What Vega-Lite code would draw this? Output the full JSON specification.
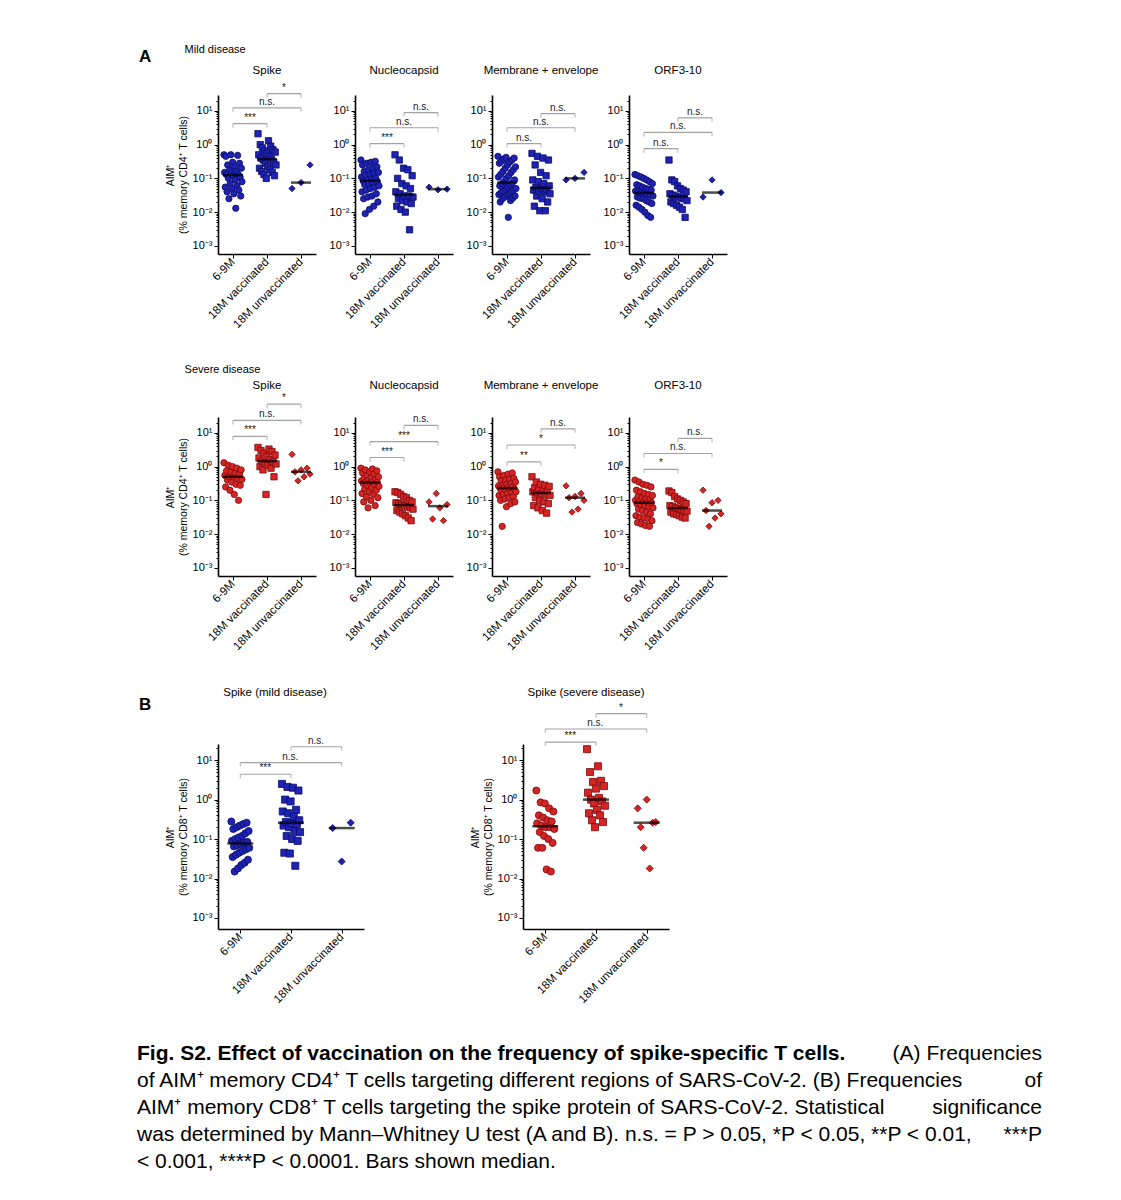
{
"$schema":"https://vega.github.io/schema/vega-lite/v6.json",
"background":"white",
"padding":{"left":137,"top":44,"right":10,"bottom":10},
"config":{
 "view":{"stroke":null},
 "font":"Liberation Sans",
 "axis":{"domainColor":"#000","domainWidth":1.6,"tickColor":"#000","tickWidth":1,"labelColor":"#000","labelFontSize":11,"labelFont":"Liberation Sans","titleFont":"Liberation Sans","titleFontSize":10.5,"titleFontWeight":"normal","titleColor":"#000","grid":false},
 "axisX":{"labelAngle":-45,"labelAlign":"right","labelBaseline":"middle","tickSize":4,"labelPadding":2,"labelFontSize":11.5},
 "title":{"font":"Liberation Sans","fontSize":11.5,"fontWeight":"normal","color":"#000","anchor":"middle","frame":"group","offset":8},
 "text":{"font":"Liberation Sans","fontSize":10,"color":"#222"}
},
"datasets":{
"br":[
{"p":"mS","c":"6-9M","c2":"18M vaccinated","v":4.17,"t":"***"},
{"p":"mS","c":"6-9M","c2":"18M unvaccinated","v":12.3,"t":"n.s."},
{"p":"mS","c":"18M vaccinated","c2":"18M unvaccinated","v":32.4,"t":"*"},
{"p":"mN","c":"6-9M","c2":"18M vaccinated","v":1.07,"t":"***"},
{"p":"mN","c":"6-9M","c2":"18M unvaccinated","v":3.16,"t":"n.s."},
{"p":"mN","c":"18M vaccinated","c2":"18M unvaccinated","v":8.9,"t":"n.s."},
{"p":"mM","c":"6-9M","c2":"18M vaccinated","v":1.07,"t":"n.s."},
{"p":"mM","c":"6-9M","c2":"18M unvaccinated","v":3.16,"t":"n.s."},
{"p":"mM","c":"18M vaccinated","c2":"18M unvaccinated","v":8.3,"t":"n.s."},
{"p":"mO","c":"6-9M","c2":"18M vaccinated","v":0.76,"t":"n.s."},
{"p":"mO","c":"6-9M","c2":"18M unvaccinated","v":2.3,"t":"n.s."},
{"p":"mO","c":"18M vaccinated","c2":"18M unvaccinated","v":6.2,"t":"n.s."},
{"p":"sS","c":"6-9M","c2":"18M vaccinated","v":7.9,"t":"***"},
{"p":"sS","c":"6-9M","c2":"18M unvaccinated","v":23.4,"t":"n.s."},
{"p":"sS","c":"18M vaccinated","c2":"18M unvaccinated","v":70.8,"t":"*"},
{"p":"sN","c":"6-9M","c2":"18M vaccinated","v":1.86,"t":"***"},
{"p":"sN","c":"6-9M","c2":"18M unvaccinated","v":5.5,"t":"***"},
{"p":"sN","c":"18M vaccinated","c2":"18M unvaccinated","v":16.6,"t":"n.s."},
{"p":"sM","c":"6-9M","c2":"18M vaccinated","v":1.38,"t":"**"},
{"p":"sM","c":"6-9M","c2":"18M unvaccinated","v":4.37,"t":"*"},
{"p":"sM","c":"18M vaccinated","c2":"18M unvaccinated","v":13.2,"t":"n.s."},
{"p":"sO","c":"6-9M","c2":"18M vaccinated","v":0.83,"t":"*"},
{"p":"sO","c":"6-9M","c2":"18M unvaccinated","v":2.45,"t":"n.s."},
{"p":"sO","c":"18M vaccinated","c2":"18M unvaccinated","v":6.9,"t":"n.s."},
{"p":"bm","c":"6-9M","c2":"18M vaccinated","v":4.4,"t":"***"},
{"p":"bm","c":"6-9M","c2":"18M unvaccinated","v":8.7,"t":"n.s."},
{"p":"bm","c":"18M vaccinated","c2":"18M unvaccinated","v":21.9,"t":"n.s."},
{"p":"bs","c":"6-9M","c2":"18M vaccinated","v":28.8,"t":"***"},
{"p":"bs","c":"6-9M","c2":"18M unvaccinated","v":61.7,"t":"n.s."},
{"p":"bs","c":"18M vaccinated","c2":"18M unvaccinated","v":151,"t":"*"}
],
"cap":[
{"line":1,"part":1,"text":"Fig. S2. Effect of vaccination on the frequency of spike-specific T cells."},
{"line":1,"part":2,"text":"(A) Frequencies"},
{"line":2,"part":1,"text":"of AIM⁺ memory CD4⁺ T cells targeting different regions of SARS-CoV-2. (B) Frequencies"},
{"line":2,"part":2,"text":"of"},
{"line":3,"part":1,"text":"AIM⁺ memory CD8⁺ T cells targeting the spike protein of SARS-CoV-2. Statistical"},
{"line":3,"part":2,"text":"significance"},
{"line":4,"part":1,"text":"was determined by Mann–Whitney U test (A and B). n.s. = P > 0.05, *P < 0.05, **P < 0.01,"},
{"line":4,"part":2,"text":"***P"},
{"line":5,"part":1,"text":"< 0.001, ****P < 0.0001. Bars shown median."}
],
"pts":[
{"p":"mS","c":"6-9M","v":0.5},{"p":"mS","c":"6-9M","v":0.15},{"p":"mS","c":"6-9M","v":0.055},{"p":"mS","c":"6-9M","v":0.45},{"p":"mS","c":"6-9M","v":0.13},{"p":"mS","c":"6-9M","v":0.04},{"p":"mS","c":"6-9M","v":0.25},{"p":"mS","c":"6-9M","v":0.1},{"p":"mS","c":"6-9M","v":0.025},{"p":"mS","c":"6-9M","v":0.18},{"p":"mS","c":"6-9M","v":0.07},{"p":"mS","c":"6-9M","v":0.5},{"p":"mS","c":"6-9M","v":0.14},{"p":"mS","c":"6-9M","v":0.05},{"p":"mS","c":"6-9M","v":0.3},{"p":"mS","c":"6-9M","v":0.12},{"p":"mS","c":"6-9M","v":0.035},{"p":"mS","c":"6-9M","v":0.22},{"p":"mS","c":"6-9M","v":0.09},{"p":"mS","c":"6-9M","v":0.013},{"p":"mS","c":"6-9M","v":0.16},{"p":"mS","c":"6-9M","v":0.06},{"p":"mS","c":"6-9M","v":0.48},{"p":"mS","c":"6-9M","v":0.13},{"p":"mS","c":"6-9M","v":0.045},{"p":"mS","c":"6-9M","v":0.28},{"p":"mS","c":"6-9M","v":0.11},{"p":"mS","c":"6-9M","v":0.03},{"p":"mS","c":"6-9M","v":0.2},{"p":"mS","c":"6-9M","v":0.08},
{"p":"mS","c":"18M vaccinated","v":2.1},{"p":"mS","c":"18M vaccinated","v":0.5},{"p":"mS","c":"18M vaccinated","v":0.2},{"p":"mS","c":"18M vaccinated","v":1.0},{"p":"mS","c":"18M vaccinated","v":0.4},{"p":"mS","c":"18M vaccinated","v":0.16},{"p":"mS","c":"18M vaccinated","v":0.8},{"p":"mS","c":"18M vaccinated","v":0.35},{"p":"mS","c":"18M vaccinated","v":0.13},{"p":"mS","c":"18M vaccinated","v":0.65},{"p":"mS","c":"18M vaccinated","v":0.28},{"p":"mS","c":"18M vaccinated","v":0.1},{"p":"mS","c":"18M vaccinated","v":0.55},{"p":"mS","c":"18M vaccinated","v":0.22},{"p":"mS","c":"18M vaccinated","v":1.3},{"p":"mS","c":"18M vaccinated","v":0.45},{"p":"mS","c":"18M vaccinated","v":0.18},{"p":"mS","c":"18M vaccinated","v":0.9},{"p":"mS","c":"18M vaccinated","v":0.37},{"p":"mS","c":"18M vaccinated","v":0.15},{"p":"mS","c":"18M vaccinated","v":0.7},{"p":"mS","c":"18M vaccinated","v":0.3},{"p":"mS","c":"18M vaccinated","v":0.12},{"p":"mS","c":"18M vaccinated","v":0.6},{"p":"mS","c":"18M vaccinated","v":0.25},
{"p":"mS","c":"18M unvaccinated","v":0.05},{"p":"mS","c":"18M unvaccinated","v":0.075},{"p":"mS","c":"18M unvaccinated","v":0.25},
{"p":"mN","c":"6-9M","v":0.35},{"p":"mN","c":"6-9M","v":0.11},{"p":"mN","c":"6-9M","v":0.04},{"p":"mN","c":"6-9M","v":0.25},{"p":"mN","c":"6-9M","v":0.085},{"p":"mN","c":"6-9M","v":0.025},{"p":"mN","c":"6-9M","v":0.16},{"p":"mN","c":"6-9M","v":0.065},{"p":"mN","c":"6-9M","v":0.009},{"p":"mN","c":"6-9M","v":0.12},{"p":"mN","c":"6-9M","v":0.045},{"p":"mN","c":"6-9M","v":0.28},{"p":"mN","c":"6-9M","v":0.09},{"p":"mN","c":"6-9M","v":0.028},{"p":"mN","c":"6-9M","v":0.18},{"p":"mN","c":"6-9M","v":0.07},{"p":"mN","c":"6-9M","v":0.012},{"p":"mN","c":"6-9M","v":0.13},{"p":"mN","c":"6-9M","v":0.05},{"p":"mN","c":"6-9M","v":0.3},{"p":"mN","c":"6-9M","v":0.095},{"p":"mN","c":"6-9M","v":0.03},{"p":"mN","c":"6-9M","v":0.2},{"p":"mN","c":"6-9M","v":0.075},{"p":"mN","c":"6-9M","v":0.015},{"p":"mN","c":"6-9M","v":0.14},{"p":"mN","c":"6-9M","v":0.055},{"p":"mN","c":"6-9M","v":0.32},{"p":"mN","c":"6-9M","v":0.1},{"p":"mN","c":"6-9M","v":0.035},{"p":"mN","c":"6-9M","v":0.22},{"p":"mN","c":"6-9M","v":0.08},{"p":"mN","c":"6-9M","v":0.02},{"p":"mN","c":"6-9M","v":0.15},{"p":"mN","c":"6-9M","v":0.06},
{"p":"mN","c":"18M vaccinated","v":0.5},{"p":"mN","c":"18M vaccinated","v":0.04},{"p":"mN","c":"18M vaccinated","v":0.015},{"p":"mN","c":"18M vaccinated","v":0.1},{"p":"mN","c":"18M vaccinated","v":0.025},{"p":"mN","c":"18M vaccinated","v":0.35},{"p":"mN","c":"18M vaccinated","v":0.035},{"p":"mN","c":"18M vaccinated","v":0.012},{"p":"mN","c":"18M vaccinated","v":0.07},{"p":"mN","c":"18M vaccinated","v":0.022},{"p":"mN","c":"18M vaccinated","v":0.2},{"p":"mN","c":"18M vaccinated","v":0.03},{"p":"mN","c":"18M vaccinated","v":0.01},{"p":"mN","c":"18M vaccinated","v":0.06},{"p":"mN","c":"18M vaccinated","v":0.02},{"p":"mN","c":"18M vaccinated","v":0.18},{"p":"mN","c":"18M vaccinated","v":0.03},{"p":"mN","c":"18M vaccinated","v":0.003},{"p":"mN","c":"18M vaccinated","v":0.05},{"p":"mN","c":"18M vaccinated","v":0.018},{"p":"mN","c":"18M vaccinated","v":0.12},{"p":"mN","c":"18M vaccinated","v":0.028},
{"p":"mN","c":"18M unvaccinated","v":0.055},{"p":"mN","c":"18M unvaccinated","v":0.046},{"p":"mN","c":"18M unvaccinated","v":0.048},
{"p":"mM","c":"6-9M","v":0.45},{"p":"mM","c":"6-9M","v":0.11},{"p":"mM","c":"6-9M","v":0.033},{"p":"mM","c":"6-9M","v":0.28},{"p":"mM","c":"6-9M","v":0.06},{"p":"mM","c":"6-9M","v":0.02},{"p":"mM","c":"6-9M","v":0.13},{"p":"mM","c":"6-9M","v":0.038},{"p":"mM","c":"6-9M","v":0.32},{"p":"mM","c":"6-9M","v":0.07},{"p":"mM","c":"6-9M","v":0.025},{"p":"mM","c":"6-9M","v":0.16},{"p":"mM","c":"6-9M","v":0.042},{"p":"mM","c":"6-9M","v":0.38},{"p":"mM","c":"6-9M","v":0.08},{"p":"mM","c":"6-9M","v":0.028},{"p":"mM","c":"6-9M","v":0.2},{"p":"mM","c":"6-9M","v":0.048},{"p":"mM","c":"6-9M","v":0.42},{"p":"mM","c":"6-9M","v":0.1},{"p":"mM","c":"6-9M","v":0.032},{"p":"mM","c":"6-9M","v":0.25},{"p":"mM","c":"6-9M","v":0.055},{"p":"mM","c":"6-9M","v":0.007},{"p":"mM","c":"6-9M","v":0.12},{"p":"mM","c":"6-9M","v":0.035},{"p":"mM","c":"6-9M","v":0.3},{"p":"mM","c":"6-9M","v":0.065},{"p":"mM","c":"6-9M","v":0.022},{"p":"mM","c":"6-9M","v":0.15},{"p":"mM","c":"6-9M","v":0.04},{"p":"mM","c":"6-9M","v":0.35},{"p":"mM","c":"6-9M","v":0.075},{"p":"mM","c":"6-9M","v":0.026},{"p":"mM","c":"6-9M","v":0.18},{"p":"mM","c":"6-9M","v":0.045},{"p":"mM","c":"6-9M","v":0.4},{"p":"mM","c":"6-9M","v":0.09},{"p":"mM","c":"6-9M","v":0.03},{"p":"mM","c":"6-9M","v":0.22},{"p":"mM","c":"6-9M","v":0.05},
{"p":"mM","c":"18M vaccinated","v":0.55},{"p":"mM","c":"18M vaccinated","v":0.09},{"p":"mM","c":"18M vaccinated","v":0.045},{"p":"mM","c":"18M vaccinated","v":0.015},{"p":"mM","c":"18M vaccinated","v":0.25},{"p":"mM","c":"18M vaccinated","v":0.055},{"p":"mM","c":"18M vaccinated","v":0.03},{"p":"mM","c":"18M vaccinated","v":0.45},{"p":"mM","c":"18M vaccinated","v":0.08},{"p":"mM","c":"18M vaccinated","v":0.042},{"p":"mM","c":"18M vaccinated","v":0.011},{"p":"mM","c":"18M vaccinated","v":0.15},{"p":"mM","c":"18M vaccinated","v":0.05},{"p":"mM","c":"18M vaccinated","v":0.025},{"p":"mM","c":"18M vaccinated","v":0.4},{"p":"mM","c":"18M vaccinated","v":0.07},{"p":"mM","c":"18M vaccinated","v":0.04},{"p":"mM","c":"18M vaccinated","v":0.011},{"p":"mM","c":"18M vaccinated","v":0.12},{"p":"mM","c":"18M vaccinated","v":0.048},{"p":"mM","c":"18M vaccinated","v":0.02},{"p":"mM","c":"18M vaccinated","v":0.35},{"p":"mM","c":"18M vaccinated","v":0.06},{"p":"mM","c":"18M vaccinated","v":0.035},
{"p":"mM","c":"18M unvaccinated","v":0.09},{"p":"mM","c":"18M unvaccinated","v":0.1},{"p":"mM","c":"18M unvaccinated","v":0.15},
{"p":"mO","c":"6-9M","v":0.13},{"p":"mO","c":"6-9M","v":0.042},{"p":"mO","c":"6-9M","v":0.016},{"p":"mO","c":"6-9M","v":0.065},{"p":"mO","c":"6-9M","v":0.028},{"p":"mO","c":"6-9M","v":0.12},{"p":"mO","c":"6-9M","v":0.04},{"p":"mO","c":"6-9M","v":0.014},{"p":"mO","c":"6-9M","v":0.06},{"p":"mO","c":"6-9M","v":0.026},{"p":"mO","c":"6-9M","v":0.11},{"p":"mO","c":"6-9M","v":0.038},{"p":"mO","c":"6-9M","v":0.012},{"p":"mO","c":"6-9M","v":0.055},{"p":"mO","c":"6-9M","v":0.025},{"p":"mO","c":"6-9M","v":0.1},{"p":"mO","c":"6-9M","v":0.036},{"p":"mO","c":"6-9M","v":0.01},{"p":"mO","c":"6-9M","v":0.05},{"p":"mO","c":"6-9M","v":0.022},{"p":"mO","c":"6-9M","v":0.09},{"p":"mO","c":"6-9M","v":0.034},{"p":"mO","c":"6-9M","v":0.008},{"p":"mO","c":"6-9M","v":0.048},{"p":"mO","c":"6-9M","v":0.02},{"p":"mO","c":"6-9M","v":0.08},{"p":"mO","c":"6-9M","v":0.032},{"p":"mO","c":"6-9M","v":0.007},{"p":"mO","c":"6-9M","v":0.045},{"p":"mO","c":"6-9M","v":0.018},{"p":"mO","c":"6-9M","v":0.07},{"p":"mO","c":"6-9M","v":0.03},
{"p":"mO","c":"18M vaccinated","v":0.35},{"p":"mO","c":"18M vaccinated","v":0.035},{"p":"mO","c":"18M vaccinated","v":0.02},{"p":"mO","c":"18M vaccinated","v":0.09},{"p":"mO","c":"18M vaccinated","v":0.032},{"p":"mO","c":"18M vaccinated","v":0.018},{"p":"mO","c":"18M vaccinated","v":0.08},{"p":"mO","c":"18M vaccinated","v":0.03},{"p":"mO","c":"18M vaccinated","v":0.016},{"p":"mO","c":"18M vaccinated","v":0.06},{"p":"mO","c":"18M vaccinated","v":0.028},{"p":"mO","c":"18M vaccinated","v":0.014},{"p":"mO","c":"18M vaccinated","v":0.05},{"p":"mO","c":"18M vaccinated","v":0.026},{"p":"mO","c":"18M vaccinated","v":0.012},{"p":"mO","c":"18M vaccinated","v":0.045},{"p":"mO","c":"18M vaccinated","v":0.025},{"p":"mO","c":"18M vaccinated","v":0.007},{"p":"mO","c":"18M vaccinated","v":0.04},{"p":"mO","c":"18M vaccinated","v":0.022},
{"p":"mO","c":"18M unvaccinated","v":0.028},{"p":"mO","c":"18M unvaccinated","v":0.09},{"p":"mO","c":"18M unvaccinated","v":0.038},
{"p":"sS","c":"6-9M","v":1.3},{"p":"sS","c":"6-9M","v":0.55},{"p":"sS","c":"6-9M","v":0.25},{"p":"sS","c":"6-9M","v":0.75},{"p":"sS","c":"6-9M","v":0.4},{"p":"sS","c":"6-9M","v":1.1},{"p":"sS","c":"6-9M","v":0.5},{"p":"sS","c":"6-9M","v":0.2},{"p":"sS","c":"6-9M","v":0.7},{"p":"sS","c":"6-9M","v":0.35},{"p":"sS","c":"6-9M","v":1.0},{"p":"sS","c":"6-9M","v":0.5},{"p":"sS","c":"6-9M","v":0.15},{"p":"sS","c":"6-9M","v":0.65},{"p":"sS","c":"6-9M","v":0.3},{"p":"sS","c":"6-9M","v":0.9},{"p":"sS","c":"6-9M","v":0.45},{"p":"sS","c":"6-9M","v":0.1},{"p":"sS","c":"6-9M","v":0.6},{"p":"sS","c":"6-9M","v":0.28},{"p":"sS","c":"6-9M","v":0.8},{"p":"sS","c":"6-9M","v":0.42},
{"p":"sS","c":"18M vaccinated","v":3.7},{"p":"sS","c":"18M vaccinated","v":1.8},{"p":"sS","c":"18M vaccinated","v":1.0},{"p":"sS","c":"18M vaccinated","v":3.0},{"p":"sS","c":"18M vaccinated","v":1.45},{"p":"sS","c":"18M vaccinated","v":0.8},{"p":"sS","c":"18M vaccinated","v":2.5},{"p":"sS","c":"18M vaccinated","v":1.3},{"p":"sS","c":"18M vaccinated","v":0.15},{"p":"sS","c":"18M vaccinated","v":2.0},{"p":"sS","c":"18M vaccinated","v":1.1},{"p":"sS","c":"18M vaccinated","v":3.3},{"p":"sS","c":"18M vaccinated","v":1.6},{"p":"sS","c":"18M vaccinated","v":0.9},{"p":"sS","c":"18M vaccinated","v":2.8},{"p":"sS","c":"18M vaccinated","v":1.4},{"p":"sS","c":"18M vaccinated","v":0.5},{"p":"sS","c":"18M vaccinated","v":2.2},{"p":"sS","c":"18M vaccinated","v":1.2},
{"p":"sS","c":"18M unvaccinated","v":2.3},{"p":"sS","c":"18M unvaccinated","v":0.7},{"p":"sS","c":"18M unvaccinated","v":0.38},{"p":"sS","c":"18M unvaccinated","v":0.8},{"p":"sS","c":"18M unvaccinated","v":0.5},{"p":"sS","c":"18M unvaccinated","v":0.9},{"p":"sS","c":"18M unvaccinated","v":0.6},
{"p":"sN","c":"6-9M","v":0.9},{"p":"sN","c":"6-9M","v":0.38},{"p":"sN","c":"6-9M","v":0.16},{"p":"sN","c":"6-9M","v":0.65},{"p":"sN","c":"6-9M","v":0.32},{"p":"sN","c":"6-9M","v":0.09},{"p":"sN","c":"6-9M","v":0.45},{"p":"sN","c":"6-9M","v":0.22},{"p":"sN","c":"6-9M","v":0.8},{"p":"sN","c":"6-9M","v":0.35},{"p":"sN","c":"6-9M","v":0.13},{"p":"sN","c":"6-9M","v":0.55},{"p":"sN","c":"6-9M","v":0.28},{"p":"sN","c":"6-9M","v":0.06},{"p":"sN","c":"6-9M","v":0.4},{"p":"sN","c":"6-9M","v":0.18},{"p":"sN","c":"6-9M","v":0.7},{"p":"sN","c":"6-9M","v":0.33},{"p":"sN","c":"6-9M","v":0.1},{"p":"sN","c":"6-9M","v":0.48},{"p":"sN","c":"6-9M","v":0.24},{"p":"sN","c":"6-9M","v":0.85},{"p":"sN","c":"6-9M","v":0.36},{"p":"sN","c":"6-9M","v":0.15},{"p":"sN","c":"6-9M","v":0.6},{"p":"sN","c":"6-9M","v":0.3},{"p":"sN","c":"6-9M","v":0.07},{"p":"sN","c":"6-9M","v":0.42},{"p":"sN","c":"6-9M","v":0.2},{"p":"sN","c":"6-9M","v":0.75},{"p":"sN","c":"6-9M","v":0.34},{"p":"sN","c":"6-9M","v":0.12},{"p":"sN","c":"6-9M","v":0.5},{"p":"sN","c":"6-9M","v":0.26},
{"p":"sN","c":"18M vaccinated","v":0.18},{"p":"sN","c":"18M vaccinated","v":0.085},{"p":"sN","c":"18M vaccinated","v":0.05},{"p":"sN","c":"18M vaccinated","v":0.17},{"p":"sN","c":"18M vaccinated","v":0.08},{"p":"sN","c":"18M vaccinated","v":0.045},{"p":"sN","c":"18M vaccinated","v":0.15},{"p":"sN","c":"18M vaccinated","v":0.075},{"p":"sN","c":"18M vaccinated","v":0.04},{"p":"sN","c":"18M vaccinated","v":0.13},{"p":"sN","c":"18M vaccinated","v":0.07},{"p":"sN","c":"18M vaccinated","v":0.035},{"p":"sN","c":"18M vaccinated","v":0.12},{"p":"sN","c":"18M vaccinated","v":0.065},{"p":"sN","c":"18M vaccinated","v":0.03},{"p":"sN","c":"18M vaccinated","v":0.1},{"p":"sN","c":"18M vaccinated","v":0.06},{"p":"sN","c":"18M vaccinated","v":0.025},{"p":"sN","c":"18M vaccinated","v":0.09},{"p":"sN","c":"18M vaccinated","v":0.055},
{"p":"sN","c":"18M unvaccinated","v":0.09},{"p":"sN","c":"18M unvaccinated","v":0.028},{"p":"sN","c":"18M unvaccinated","v":0.16},{"p":"sN","c":"18M unvaccinated","v":0.06},{"p":"sN","c":"18M unvaccinated","v":0.025},{"p":"sN","c":"18M unvaccinated","v":0.075},
{"p":"sM","c":"6-9M","v":0.7},{"p":"sM","c":"6-9M","v":0.27},{"p":"sM","c":"6-9M","v":0.14},{"p":"sM","c":"6-9M","v":0.5},{"p":"sM","c":"6-9M","v":0.23},{"p":"sM","c":"6-9M","v":0.1},{"p":"sM","c":"6-9M","v":0.38},{"p":"sM","c":"6-9M","v":0.19},{"p":"sM","c":"6-9M","v":0.017},{"p":"sM","c":"6-9M","v":0.28},{"p":"sM","c":"6-9M","v":0.15},{"p":"sM","c":"6-9M","v":0.55},{"p":"sM","c":"6-9M","v":0.24},{"p":"sM","c":"6-9M","v":0.11},{"p":"sM","c":"6-9M","v":0.4},{"p":"sM","c":"6-9M","v":0.2},{"p":"sM","c":"6-9M","v":0.065},{"p":"sM","c":"6-9M","v":0.3},{"p":"sM","c":"6-9M","v":0.16},{"p":"sM","c":"6-9M","v":0.6},{"p":"sM","c":"6-9M","v":0.25},{"p":"sM","c":"6-9M","v":0.12},{"p":"sM","c":"6-9M","v":0.42},{"p":"sM","c":"6-9M","v":0.21},{"p":"sM","c":"6-9M","v":0.08},{"p":"sM","c":"6-9M","v":0.32},{"p":"sM","c":"6-9M","v":0.17},{"p":"sM","c":"6-9M","v":0.65},{"p":"sM","c":"6-9M","v":0.26},{"p":"sM","c":"6-9M","v":0.13},{"p":"sM","c":"6-9M","v":0.45},{"p":"sM","c":"6-9M","v":0.22},{"p":"sM","c":"6-9M","v":0.09},{"p":"sM","c":"6-9M","v":0.35},{"p":"sM","c":"6-9M","v":0.18},
{"p":"sM","c":"18M vaccinated","v":0.5},{"p":"sM","c":"18M vaccinated","v":0.18},{"p":"sM","c":"18M vaccinated","v":0.07},{"p":"sM","c":"18M vaccinated","v":0.24},{"p":"sM","c":"18M vaccinated","v":0.12},{"p":"sM","c":"18M vaccinated","v":0.35},{"p":"sM","c":"18M vaccinated","v":0.17},{"p":"sM","c":"18M vaccinated","v":0.06},{"p":"sM","c":"18M vaccinated","v":0.22},{"p":"sM","c":"18M vaccinated","v":0.1},{"p":"sM","c":"18M vaccinated","v":0.3},{"p":"sM","c":"18M vaccinated","v":0.16},{"p":"sM","c":"18M vaccinated","v":0.05},{"p":"sM","c":"18M vaccinated","v":0.2},{"p":"sM","c":"18M vaccinated","v":0.09},{"p":"sM","c":"18M vaccinated","v":0.28},{"p":"sM","c":"18M vaccinated","v":0.15},{"p":"sM","c":"18M vaccinated","v":0.042},{"p":"sM","c":"18M vaccinated","v":0.19},{"p":"sM","c":"18M vaccinated","v":0.08},{"p":"sM","c":"18M vaccinated","v":0.26},{"p":"sM","c":"18M vaccinated","v":0.14},
{"p":"sM","c":"18M unvaccinated","v":0.27},{"p":"sM","c":"18M unvaccinated","v":0.12},{"p":"sM","c":"18M unvaccinated","v":0.045},{"p":"sM","c":"18M unvaccinated","v":0.13},{"p":"sM","c":"18M unvaccinated","v":0.055},{"p":"sM","c":"18M unvaccinated","v":0.16},{"p":"sM","c":"18M unvaccinated","v":0.1},
{"p":"sO","c":"6-9M","v":0.4},{"p":"sO","c":"6-9M","v":0.1},{"p":"sO","c":"6-9M","v":0.035},{"p":"sO","c":"6-9M","v":0.2},{"p":"sO","c":"6-9M","v":0.08},{"p":"sO","c":"6-9M","v":0.022},{"p":"sO","c":"6-9M","v":0.13},{"p":"sO","c":"6-9M","v":0.055},{"p":"sO","c":"6-9M","v":0.35},{"p":"sO","c":"6-9M","v":0.095},{"p":"sO","c":"6-9M","v":0.032},{"p":"sO","c":"6-9M","v":0.18},{"p":"sO","c":"6-9M","v":0.075},{"p":"sO","c":"6-9M","v":0.02},{"p":"sO","c":"6-9M","v":0.12},{"p":"sO","c":"6-9M","v":0.05},{"p":"sO","c":"6-9M","v":0.3},{"p":"sO","c":"6-9M","v":0.09},{"p":"sO","c":"6-9M","v":0.03},{"p":"sO","c":"6-9M","v":0.16},{"p":"sO","c":"6-9M","v":0.07},{"p":"sO","c":"6-9M","v":0.018},{"p":"sO","c":"6-9M","v":0.11},{"p":"sO","c":"6-9M","v":0.045},{"p":"sO","c":"6-9M","v":0.28},{"p":"sO","c":"6-9M","v":0.088},{"p":"sO","c":"6-9M","v":0.028},{"p":"sO","c":"6-9M","v":0.15},{"p":"sO","c":"6-9M","v":0.065},{"p":"sO","c":"6-9M","v":0.017},{"p":"sO","c":"6-9M","v":0.105},{"p":"sO","c":"6-9M","v":0.04},{"p":"sO","c":"6-9M","v":0.25},{"p":"sO","c":"6-9M","v":0.085},{"p":"sO","c":"6-9M","v":0.025},{"p":"sO","c":"6-9M","v":0.14},{"p":"sO","c":"6-9M","v":0.06},
{"p":"sO","c":"18M vaccinated","v":0.19},{"p":"sO","c":"18M vaccinated","v":0.07},{"p":"sO","c":"18M vaccinated","v":0.045},{"p":"sO","c":"18M vaccinated","v":0.17},{"p":"sO","c":"18M vaccinated","v":0.065},{"p":"sO","c":"18M vaccinated","v":0.04},{"p":"sO","c":"18M vaccinated","v":0.13},{"p":"sO","c":"18M vaccinated","v":0.06},{"p":"sO","c":"18M vaccinated","v":0.038},{"p":"sO","c":"18M vaccinated","v":0.11},{"p":"sO","c":"18M vaccinated","v":0.058},{"p":"sO","c":"18M vaccinated","v":0.035},{"p":"sO","c":"18M vaccinated","v":0.1},{"p":"sO","c":"18M vaccinated","v":0.055},{"p":"sO","c":"18M vaccinated","v":0.032},{"p":"sO","c":"18M vaccinated","v":0.09},{"p":"sO","c":"18M vaccinated","v":0.05},{"p":"sO","c":"18M vaccinated","v":0.03},{"p":"sO","c":"18M vaccinated","v":0.08},{"p":"sO","c":"18M vaccinated","v":0.048},
{"p":"sO","c":"18M unvaccinated","v":0.2},{"p":"sO","c":"18M unvaccinated","v":0.05},{"p":"sO","c":"18M unvaccinated","v":0.017},{"p":"sO","c":"18M unvaccinated","v":0.085},{"p":"sO","c":"18M unvaccinated","v":0.03},{"p":"sO","c":"18M unvaccinated","v":0.1},{"p":"sO","c":"18M unvaccinated","v":0.04},
{"p":"bm","c":"6-9M","v":0.28},{"p":"bm","c":"6-9M","v":0.09},{"p":"bm","c":"6-9M","v":0.035},{"p":"bm","c":"6-9M","v":0.18},{"p":"bm","c":"6-9M","v":0.065},{"p":"bm","c":"6-9M","v":0.015},{"p":"bm","c":"6-9M","v":0.1},{"p":"bm","c":"6-9M","v":0.04},{"p":"bm","c":"6-9M","v":0.2},{"p":"bm","c":"6-9M","v":0.07},{"p":"bm","c":"6-9M","v":0.018},{"p":"bm","c":"6-9M","v":0.11},{"p":"bm","c":"6-9M","v":0.045},{"p":"bm","c":"6-9M","v":0.22},{"p":"bm","c":"6-9M","v":0.075},{"p":"bm","c":"6-9M","v":0.022},{"p":"bm","c":"6-9M","v":0.12},{"p":"bm","c":"6-9M","v":0.05},{"p":"bm","c":"6-9M","v":0.24},{"p":"bm","c":"6-9M","v":0.08},{"p":"bm","c":"6-9M","v":0.025},{"p":"bm","c":"6-9M","v":0.14},{"p":"bm","c":"6-9M","v":0.055},{"p":"bm","c":"6-9M","v":0.26},{"p":"bm","c":"6-9M","v":0.085},{"p":"bm","c":"6-9M","v":0.03},{"p":"bm","c":"6-9M","v":0.16},{"p":"bm","c":"6-9M","v":0.06},
{"p":"bm","c":"18M vaccinated","v":2.5},{"p":"bm","c":"18M vaccinated","v":0.5},{"p":"bm","c":"18M vaccinated","v":0.22},{"p":"bm","c":"18M vaccinated","v":0.045},{"p":"bm","c":"18M vaccinated","v":1.0},{"p":"bm","c":"18M vaccinated","v":0.27},{"p":"bm","c":"18M vaccinated","v":0.12},{"p":"bm","c":"18M vaccinated","v":2.1},{"p":"bm","c":"18M vaccinated","v":0.45},{"p":"bm","c":"18M vaccinated","v":0.2},{"p":"bm","c":"18M vaccinated","v":0.043},{"p":"bm","c":"18M vaccinated","v":0.9},{"p":"bm","c":"18M vaccinated","v":0.25},{"p":"bm","c":"18M vaccinated","v":0.1},{"p":"bm","c":"18M vaccinated","v":2.0},{"p":"bm","c":"18M vaccinated","v":0.37},{"p":"bm","c":"18M vaccinated","v":0.16},{"p":"bm","c":"18M vaccinated","v":0.021},{"p":"bm","c":"18M vaccinated","v":0.55},{"p":"bm","c":"18M vaccinated","v":0.24},{"p":"bm","c":"18M vaccinated","v":0.09},{"p":"bm","c":"18M vaccinated","v":1.7},{"p":"bm","c":"18M vaccinated","v":0.3},{"p":"bm","c":"18M vaccinated","v":0.15},
{"p":"bm","c":"18M unvaccinated","v":0.19},{"p":"bm","c":"18M unvaccinated","v":0.027},{"p":"bm","c":"18M unvaccinated","v":0.26},
{"p":"bs","c":"6-9M","v":1.7},{"p":"bs","c":"6-9M","v":0.25},{"p":"bs","c":"6-9M","v":0.06},{"p":"bs","c":"6-9M","v":0.4},{"p":"bs","c":"6-9M","v":0.15},{"p":"bs","c":"6-9M","v":0.85},{"p":"bs","c":"6-9M","v":0.22},{"p":"bs","c":"6-9M","v":0.06},{"p":"bs","c":"6-9M","v":0.35},{"p":"bs","c":"6-9M","v":0.12},{"p":"bs","c":"6-9M","v":0.8},{"p":"bs","c":"6-9M","v":0.2},{"p":"bs","c":"6-9M","v":0.017},{"p":"bs","c":"6-9M","v":0.3},{"p":"bs","c":"6-9M","v":0.1},{"p":"bs","c":"6-9M","v":0.6},{"p":"bs","c":"6-9M","v":0.2},{"p":"bs","c":"6-9M","v":0.015},{"p":"bs","c":"6-9M","v":0.28},{"p":"bs","c":"6-9M","v":0.08},{"p":"bs","c":"6-9M","v":0.5},{"p":"bs","c":"6-9M","v":0.18},
{"p":"bs","c":"18M vaccinated","v":19},{"p":"bs","c":"18M vaccinated","v":1.5},{"p":"bs","c":"18M vaccinated","v":0.45},{"p":"bs","c":"18M vaccinated","v":5},{"p":"bs","c":"18M vaccinated","v":1.0},{"p":"bs","c":"18M vaccinated","v":0.3},{"p":"bs","c":"18M vaccinated","v":2.8},{"p":"bs","c":"18M vaccinated","v":0.8},{"p":"bs","c":"18M vaccinated","v":0.2},{"p":"bs","c":"18M vaccinated","v":1.9},{"p":"bs","c":"18M vaccinated","v":0.55},{"p":"bs","c":"18M vaccinated","v":7},{"p":"bs","c":"18M vaccinated","v":1.1},{"p":"bs","c":"18M vaccinated","v":0.4},{"p":"bs","c":"18M vaccinated","v":3},{"p":"bs","c":"18M vaccinated","v":0.9},{"p":"bs","c":"18M vaccinated","v":0.27},{"p":"bs","c":"18M vaccinated","v":2.2},{"p":"bs","c":"18M vaccinated","v":0.7},
{"p":"bs","c":"18M unvaccinated","v":0.6},{"p":"bs","c":"18M unvaccinated","v":0.2},{"p":"bs","c":"18M unvaccinated","v":0.06},{"p":"bs","c":"18M unvaccinated","v":1.0},{"p":"bs","c":"18M unvaccinated","v":0.018},{"p":"bs","c":"18M unvaccinated","v":0.26},{"p":"bs","c":"18M unvaccinated","v":0.27}
]
},
"spacing":35,
"vconcat":[
{"title":{"text":"A","orient":"left","anchor":"end","angle":0,"align":"right","baseline":"top","fontSize":17,"fontWeight":"bold","offset":2,"dy":5,"frame":"bounds"},
 "spacing":33,
 "vconcat":[
 {"title":{"text":"Mild disease","anchor":"start","frame":"bounds","fontSize":11,"dx":19,"offset":10},
  "bounds":"flush","spacing":39,
  "hconcat":[
  {"width":98,"height":159,"title":{"text":"Spike","dy":2},
   "encoding":{"x":{"field":"c","type":"nominal","scale":{"type":"point","domain":["6-9M","18M vaccinated","18M unvaccinated"],"padding":0.44},"axis":{"title":null}},
    "y":{"field":"v","type":"quantitative","scale":{"type":"log","domain":[0.000575,29.5],"nice":false},"axis":{"title":["AIM⁺","(% memory CD4⁺ T cells)"],"titlePadding":4,"values":[0.001,0.002,0.003,0.004,0.005,0.006,0.007,0.008,0.009,0.01,0.02,0.03,0.04,0.05,0.06,0.07,0.08,0.09,0.1,0.2,0.3,0.4,0.5,0.6,0.7,0.8,0.9,1,2,3,4,5,6,7,8,9,10,20],"labelExpr":"datum.value==10?'10¹':datum.value==1?'10⁰':datum.value==0.1?'10⁻¹':datum.value==0.01?'10⁻²':datum.value==0.001?'10⁻³':''","tickSize":{"condition":{"test":"datum.value==10||datum.value==1||datum.value==0.1||datum.value==0.01||datum.value==0.001","value":4},"value":2},"labelOverlap":false,"labelFlush":false}}},
   "layer":[
    {"data":{"name":"br"},"transform":[{"filter":"datum.p=='mS'"}],"mark":{"type":"rule","color":"#a3a3a3","strokeWidth":1.2},"encoding":{"x2":{"field":"c2"}}},
    {"data":{"name":"br"},"transform":[{"filter":"datum.p=='mS'"},{"fold":["c","c2"],"as":["k","e"]}],"mark":{"type":"tick","orient":"vertical","color":"#a3a3a3","size":4,"thickness":1.2,"yOffset":2},"encoding":{"x":{"field":"e","type":"nominal","scale":{"type":"point","domain":["6-9M","18M vaccinated","18M unvaccinated"],"padding":0.44},"axis":{"title":null}}}},
    {"data":{"name":"br"},"transform":[{"filter":"datum.p=='mS'&&!(datum.c=='6-9M'&&datum.c2=='18M unvaccinated')"}],"mark":{"type":"text","dx":17,"dy":-3,"baseline":"alphabetic","color":"#222","fontSize":10},"encoding":{"text":{"field":"t"}}},
    {"data":{"name":"br"},"transform":[{"filter":"datum.p=='mS'&&datum.c=='6-9M'&&datum.c2=='18M unvaccinated'"}],"mark":{"type":"text","dx":34,"dy":-3,"baseline":"alphabetic","color":"#222","fontSize":10},"encoding":{"text":{"field":"t"}}},
    {"data":{"name":"pts"},"transform":[{"filter":"datum.p=='mS'"},{"window":[{"op":"row_number","as":"rn"}],"groupby":["c"]},{"window":[{"op":"percent_rank","as":"j"}],"sort":[{"field":"rn"}],"groupby":["c"]}],"mark":{"type":"point","filled":true,"size":40,"fill":"#1f23b3","stroke":"#0a0d66","strokeWidth":0.8,"opacity":1},"encoding":{"xOffset":{"field":"j","type":"quantitative","scale":{"domain":[0,1],"range":[-9,9]}},"shape":{"field":"c","type":"nominal","scale":{"domain":["6-9M","18M vaccinated","18M unvaccinated"],"range":["circle","square","diamond"]},"legend":null}}},
    {"data":{"name":"pts"},"transform":[{"filter":"datum.p=='mS'"},{"aggregate":[{"op":"median","field":"v","as":"v"}],"groupby":["c"]}],"mark":{"type":"tick","orient":"horizontal","color":"#000","size":20,"thickness":2.5}}
   ]},
  {"width":98,"height":159,"title":{"text":"Nucleocapsid","dy":-10},
   "encoding":{"x":{"field":"c","type":"nominal","scale":{"type":"point","domain":["6-9M","18M vaccinated","18M unvaccinated"],"padding":0.44},"axis":{"title":null}},
    "y":{"field":"v","type":"quantitative","scale":{"type":"log","domain":[0.000575,29.5],"nice":false},"axis":{"title":null,"values":[0.001,0.002,0.003,0.004,0.005,0.006,0.007,0.008,0.009,0.01,0.02,0.03,0.04,0.05,0.06,0.07,0.08,0.09,0.1,0.2,0.3,0.4,0.5,0.6,0.7,0.8,0.9,1,2,3,4,5,6,7,8,9,10,20],"labelExpr":"datum.value==10?'10¹':datum.value==1?'10⁰':datum.value==0.1?'10⁻¹':datum.value==0.01?'10⁻²':datum.value==0.001?'10⁻³':''","tickSize":{"condition":{"test":"datum.value==10||datum.value==1||datum.value==0.1||datum.value==0.01||datum.value==0.001","value":4},"value":2},"labelOverlap":false,"labelFlush":false}}},
   "layer":[
    {"data":{"name":"br"},"transform":[{"filter":"datum.p=='mN'"}],"mark":{"type":"rule","color":"#a3a3a3","strokeWidth":1.2},"encoding":{"x2":{"field":"c2"}}},
    {"data":{"name":"br"},"transform":[{"filter":"datum.p=='mN'"},{"fold":["c","c2"],"as":["k","e"]}],"mark":{"type":"tick","orient":"vertical","color":"#a3a3a3","size":4,"thickness":1.2,"yOffset":2},"encoding":{"x":{"field":"e","type":"nominal","scale":{"type":"point","domain":["6-9M","18M vaccinated","18M unvaccinated"],"padding":0.44},"axis":{"title":null}}}},
    {"data":{"name":"br"},"transform":[{"filter":"datum.p=='mN'&&!(datum.c=='6-9M'&&datum.c2=='18M unvaccinated')"}],"mark":{"type":"text","dx":17,"dy":-3,"baseline":"alphabetic","color":"#222","fontSize":10},"encoding":{"text":{"field":"t"}}},
    {"data":{"name":"br"},"transform":[{"filter":"datum.p=='mN'&&datum.c=='6-9M'&&datum.c2=='18M unvaccinated'"}],"mark":{"type":"text","dx":34,"dy":-3,"baseline":"alphabetic","color":"#222","fontSize":10},"encoding":{"text":{"field":"t"}}},
    {"data":{"name":"pts"},"transform":[{"filter":"datum.p=='mN'"},{"window":[{"op":"row_number","as":"rn"}],"groupby":["c"]},{"window":[{"op":"percent_rank","as":"j"}],"sort":[{"field":"rn"}],"groupby":["c"]}],"mark":{"type":"point","filled":true,"size":40,"fill":"#1f23b3","stroke":"#0a0d66","strokeWidth":0.8,"opacity":1},"encoding":{"xOffset":{"field":"j","type":"quantitative","scale":{"domain":[0,1],"range":[-9,9]}},"shape":{"field":"c","type":"nominal","scale":{"domain":["6-9M","18M vaccinated","18M unvaccinated"],"range":["circle","square","diamond"]},"legend":null}}},
    {"data":{"name":"pts"},"transform":[{"filter":"datum.p=='mN'"},{"aggregate":[{"op":"median","field":"v","as":"v"}],"groupby":["c"]}],"mark":{"type":"tick","orient":"horizontal","color":"#000","size":20,"thickness":2.5}}
   ]},
  {"width":98,"height":159,"title":{"text":"Membrane + envelope","dy":-10},
   "encoding":{"x":{"field":"c","type":"nominal","scale":{"type":"point","domain":["6-9M","18M vaccinated","18M unvaccinated"],"padding":0.44},"axis":{"title":null}},
    "y":{"field":"v","type":"quantitative","scale":{"type":"log","domain":[0.000575,29.5],"nice":false},"axis":{"title":null,"values":[0.001,0.002,0.003,0.004,0.005,0.006,0.007,0.008,0.009,0.01,0.02,0.03,0.04,0.05,0.06,0.07,0.08,0.09,0.1,0.2,0.3,0.4,0.5,0.6,0.7,0.8,0.9,1,2,3,4,5,6,7,8,9,10,20],"labelExpr":"datum.value==10?'10¹':datum.value==1?'10⁰':datum.value==0.1?'10⁻¹':datum.value==0.01?'10⁻²':datum.value==0.001?'10⁻³':''","tickSize":{"condition":{"test":"datum.value==10||datum.value==1||datum.value==0.1||datum.value==0.01||datum.value==0.001","value":4},"value":2},"labelOverlap":false,"labelFlush":false}}},
   "layer":[
    {"data":{"name":"br"},"transform":[{"filter":"datum.p=='mM'"}],"mark":{"type":"rule","color":"#a3a3a3","strokeWidth":1.2},"encoding":{"x2":{"field":"c2"}}},
    {"data":{"name":"br"},"transform":[{"filter":"datum.p=='mM'"},{"fold":["c","c2"],"as":["k","e"]}],"mark":{"type":"tick","orient":"vertical","color":"#a3a3a3","size":4,"thickness":1.2,"yOffset":2},"encoding":{"x":{"field":"e","type":"nominal","scale":{"type":"point","domain":["6-9M","18M vaccinated","18M unvaccinated"],"padding":0.44},"axis":{"title":null}}}},
    {"data":{"name":"br"},"transform":[{"filter":"datum.p=='mM'&&!(datum.c=='6-9M'&&datum.c2=='18M unvaccinated')"}],"mark":{"type":"text","dx":17,"dy":-3,"baseline":"alphabetic","color":"#222","fontSize":10},"encoding":{"text":{"field":"t"}}},
    {"data":{"name":"br"},"transform":[{"filter":"datum.p=='mM'&&datum.c=='6-9M'&&datum.c2=='18M unvaccinated'"}],"mark":{"type":"text","dx":34,"dy":-3,"baseline":"alphabetic","color":"#222","fontSize":10},"encoding":{"text":{"field":"t"}}},
    {"data":{"name":"pts"},"transform":[{"filter":"datum.p=='mM'"},{"window":[{"op":"row_number","as":"rn"}],"groupby":["c"]},{"window":[{"op":"percent_rank","as":"j"}],"sort":[{"field":"rn"}],"groupby":["c"]}],"mark":{"type":"point","filled":true,"size":40,"fill":"#1f23b3","stroke":"#0a0d66","strokeWidth":0.8,"opacity":1},"encoding":{"xOffset":{"field":"j","type":"quantitative","scale":{"domain":[0,1],"range":[-9,9]}},"shape":{"field":"c","type":"nominal","scale":{"domain":["6-9M","18M vaccinated","18M unvaccinated"],"range":["circle","square","diamond"]},"legend":null}}},
    {"data":{"name":"pts"},"transform":[{"filter":"datum.p=='mM'"},{"aggregate":[{"op":"median","field":"v","as":"v"}],"groupby":["c"]}],"mark":{"type":"tick","orient":"horizontal","color":"#000","size":20,"thickness":2.5}}
   ]},
  {"width":98,"height":159,"title":{"text":"ORF3-10","dy":-10},
   "encoding":{"x":{"field":"c","type":"nominal","scale":{"type":"point","domain":["6-9M","18M vaccinated","18M unvaccinated"],"padding":0.44},"axis":{"title":null}},
    "y":{"field":"v","type":"quantitative","scale":{"type":"log","domain":[0.000575,29.5],"nice":false},"axis":{"title":null,"values":[0.001,0.002,0.003,0.004,0.005,0.006,0.007,0.008,0.009,0.01,0.02,0.03,0.04,0.05,0.06,0.07,0.08,0.09,0.1,0.2,0.3,0.4,0.5,0.6,0.7,0.8,0.9,1,2,3,4,5,6,7,8,9,10,20],"labelExpr":"datum.value==10?'10¹':datum.value==1?'10⁰':datum.value==0.1?'10⁻¹':datum.value==0.01?'10⁻²':datum.value==0.001?'10⁻³':''","tickSize":{"condition":{"test":"datum.value==10||datum.value==1||datum.value==0.1||datum.value==0.01||datum.value==0.001","value":4},"value":2},"labelOverlap":false,"labelFlush":false}}},
   "layer":[
    {"data":{"name":"br"},"transform":[{"filter":"datum.p=='mO'"}],"mark":{"type":"rule","color":"#a3a3a3","strokeWidth":1.2},"encoding":{"x2":{"field":"c2"}}},
    {"data":{"name":"br"},"transform":[{"filter":"datum.p=='mO'"},{"fold":["c","c2"],"as":["k","e"]}],"mark":{"type":"tick","orient":"vertical","color":"#a3a3a3","size":4,"thickness":1.2,"yOffset":2},"encoding":{"x":{"field":"e","type":"nominal","scale":{"type":"point","domain":["6-9M","18M vaccinated","18M unvaccinated"],"padding":0.44},"axis":{"title":null}}}},
    {"data":{"name":"br"},"transform":[{"filter":"datum.p=='mO'&&!(datum.c=='6-9M'&&datum.c2=='18M unvaccinated')"}],"mark":{"type":"text","dx":17,"dy":-3,"baseline":"alphabetic","color":"#222","fontSize":10},"encoding":{"text":{"field":"t"}}},
    {"data":{"name":"br"},"transform":[{"filter":"datum.p=='mO'&&datum.c=='6-9M'&&datum.c2=='18M unvaccinated'"}],"mark":{"type":"text","dx":34,"dy":-3,"baseline":"alphabetic","color":"#222","fontSize":10},"encoding":{"text":{"field":"t"}}},
    {"data":{"name":"pts"},"transform":[{"filter":"datum.p=='mO'"},{"window":[{"op":"row_number","as":"rn"}],"groupby":["c"]},{"window":[{"op":"percent_rank","as":"j"}],"sort":[{"field":"rn"}],"groupby":["c"]}],"mark":{"type":"point","filled":true,"size":40,"fill":"#1f23b3","stroke":"#0a0d66","strokeWidth":0.8,"opacity":1},"encoding":{"xOffset":{"field":"j","type":"quantitative","scale":{"domain":[0,1],"range":[-9,9]}},"shape":{"field":"c","type":"nominal","scale":{"domain":["6-9M","18M vaccinated","18M unvaccinated"],"range":["circle","square","diamond"]},"legend":null}}},
    {"data":{"name":"pts"},"transform":[{"filter":"datum.p=='mO'"},{"aggregate":[{"op":"median","field":"v","as":"v"}],"groupby":["c"]}],"mark":{"type":"tick","orient":"horizontal","color":"#000","size":20,"thickness":2.5}}
   ]}
  ]},
 {"title":{"text":"Severe disease","anchor":"start","frame":"bounds","fontSize":11,"dx":19,"offset":5},
  "bounds":"flush","spacing":39,
  "hconcat":[
  {"width":98,"height":159,"title":{"text":"Spike","dy":6},
   "encoding":{"x":{"field":"c","type":"nominal","scale":{"type":"point","domain":["6-9M","18M vaccinated","18M unvaccinated"],"padding":0.44},"axis":{"title":null}},
    "y":{"field":"v","type":"quantitative","scale":{"type":"log","domain":[0.000575,29.5],"nice":false},"axis":{"title":["AIM⁺","(% memory CD4⁺ T cells)"],"titlePadding":4,"values":[0.001,0.002,0.003,0.004,0.005,0.006,0.007,0.008,0.009,0.01,0.02,0.03,0.04,0.05,0.06,0.07,0.08,0.09,0.1,0.2,0.3,0.4,0.5,0.6,0.7,0.8,0.9,1,2,3,4,5,6,7,8,9,10,20],"labelExpr":"datum.value==10?'10¹':datum.value==1?'10⁰':datum.value==0.1?'10⁻¹':datum.value==0.01?'10⁻²':datum.value==0.001?'10⁻³':''","tickSize":{"condition":{"test":"datum.value==10||datum.value==1||datum.value==0.1||datum.value==0.01||datum.value==0.001","value":4},"value":2},"labelOverlap":false,"labelFlush":false}}},
   "layer":[
    {"data":{"name":"br"},"transform":[{"filter":"datum.p=='sS'"}],"mark":{"type":"rule","color":"#a3a3a3","strokeWidth":1.2},"encoding":{"x2":{"field":"c2"}}},
    {"data":{"name":"br"},"transform":[{"filter":"datum.p=='sS'"},{"fold":["c","c2"],"as":["k","e"]}],"mark":{"type":"tick","orient":"vertical","color":"#a3a3a3","size":4,"thickness":1.2,"yOffset":2},"encoding":{"x":{"field":"e","type":"nominal","scale":{"type":"point","domain":["6-9M","18M vaccinated","18M unvaccinated"],"padding":0.44},"axis":{"title":null}}}},
    {"data":{"name":"br"},"transform":[{"filter":"datum.p=='sS'&&!(datum.c=='6-9M'&&datum.c2=='18M unvaccinated')"}],"mark":{"type":"text","dx":17,"dy":-3,"baseline":"alphabetic","color":"#222","fontSize":10},"encoding":{"text":{"field":"t"}}},
    {"data":{"name":"br"},"transform":[{"filter":"datum.p=='sS'&&datum.c=='6-9M'&&datum.c2=='18M unvaccinated'"}],"mark":{"type":"text","dx":34,"dy":-3,"baseline":"alphabetic","color":"#222","fontSize":10},"encoding":{"text":{"field":"t"}}},
    {"data":{"name":"pts"},"transform":[{"filter":"datum.p=='sS'"},{"window":[{"op":"row_number","as":"rn"}],"groupby":["c"]},{"window":[{"op":"percent_rank","as":"j"}],"sort":[{"field":"rn"}],"groupby":["c"]}],"mark":{"type":"point","filled":true,"size":40,"fill":"#d42424","stroke":"#7a0b0b","strokeWidth":0.8,"opacity":1},"encoding":{"xOffset":{"field":"j","type":"quantitative","scale":{"domain":[0,1],"range":[-9,9]}},"shape":{"field":"c","type":"nominal","scale":{"domain":["6-9M","18M vaccinated","18M unvaccinated"],"range":["circle","square","diamond"]},"legend":null}}},
    {"data":{"name":"pts"},"transform":[{"filter":"datum.p=='sS'"},{"aggregate":[{"op":"median","field":"v","as":"v"}],"groupby":["c"]}],"mark":{"type":"tick","orient":"horizontal","color":"#000","size":20,"thickness":2.5}}
   ]},
  {"width":98,"height":159,"title":{"text":"Nucleocapsid","dy":-15},
   "encoding":{"x":{"field":"c","type":"nominal","scale":{"type":"point","domain":["6-9M","18M vaccinated","18M unvaccinated"],"padding":0.44},"axis":{"title":null}},
    "y":{"field":"v","type":"quantitative","scale":{"type":"log","domain":[0.000575,29.5],"nice":false},"axis":{"title":null,"values":[0.001,0.002,0.003,0.004,0.005,0.006,0.007,0.008,0.009,0.01,0.02,0.03,0.04,0.05,0.06,0.07,0.08,0.09,0.1,0.2,0.3,0.4,0.5,0.6,0.7,0.8,0.9,1,2,3,4,5,6,7,8,9,10,20],"labelExpr":"datum.value==10?'10¹':datum.value==1?'10⁰':datum.value==0.1?'10⁻¹':datum.value==0.01?'10⁻²':datum.value==0.001?'10⁻³':''","tickSize":{"condition":{"test":"datum.value==10||datum.value==1||datum.value==0.1||datum.value==0.01||datum.value==0.001","value":4},"value":2},"labelOverlap":false,"labelFlush":false}}},
   "layer":[
    {"data":{"name":"br"},"transform":[{"filter":"datum.p=='sN'"}],"mark":{"type":"rule","color":"#a3a3a3","strokeWidth":1.2},"encoding":{"x2":{"field":"c2"}}},
    {"data":{"name":"br"},"transform":[{"filter":"datum.p=='sN'"},{"fold":["c","c2"],"as":["k","e"]}],"mark":{"type":"tick","orient":"vertical","color":"#a3a3a3","size":4,"thickness":1.2,"yOffset":2},"encoding":{"x":{"field":"e","type":"nominal","scale":{"type":"point","domain":["6-9M","18M vaccinated","18M unvaccinated"],"padding":0.44},"axis":{"title":null}}}},
    {"data":{"name":"br"},"transform":[{"filter":"datum.p=='sN'&&!(datum.c=='6-9M'&&datum.c2=='18M unvaccinated')"}],"mark":{"type":"text","dx":17,"dy":-3,"baseline":"alphabetic","color":"#222","fontSize":10},"encoding":{"text":{"field":"t"}}},
    {"data":{"name":"br"},"transform":[{"filter":"datum.p=='sN'&&datum.c=='6-9M'&&datum.c2=='18M unvaccinated'"}],"mark":{"type":"text","dx":34,"dy":-3,"baseline":"alphabetic","color":"#222","fontSize":10},"encoding":{"text":{"field":"t"}}},
    {"data":{"name":"pts"},"transform":[{"filter":"datum.p=='sN'"},{"window":[{"op":"row_number","as":"rn"}],"groupby":["c"]},{"window":[{"op":"percent_rank","as":"j"}],"sort":[{"field":"rn"}],"groupby":["c"]}],"mark":{"type":"point","filled":true,"size":40,"fill":"#d42424","stroke":"#7a0b0b","strokeWidth":0.8,"opacity":1},"encoding":{"xOffset":{"field":"j","type":"quantitative","scale":{"domain":[0,1],"range":[-9,9]}},"shape":{"field":"c","type":"nominal","scale":{"domain":["6-9M","18M vaccinated","18M unvaccinated"],"range":["circle","square","diamond"]},"legend":null}}},
    {"data":{"name":"pts"},"transform":[{"filter":"datum.p=='sN'"},{"aggregate":[{"op":"median","field":"v","as":"v"}],"groupby":["c"]}],"mark":{"type":"tick","orient":"horizontal","color":"#000","size":20,"thickness":2.5}}
   ]},
  {"width":98,"height":159,"title":{"text":"Membrane + envelope","dy":-17},
   "encoding":{"x":{"field":"c","type":"nominal","scale":{"type":"point","domain":["6-9M","18M vaccinated","18M unvaccinated"],"padding":0.44},"axis":{"title":null}},
    "y":{"field":"v","type":"quantitative","scale":{"type":"log","domain":[0.000575,29.5],"nice":false},"axis":{"title":null,"values":[0.001,0.002,0.003,0.004,0.005,0.006,0.007,0.008,0.009,0.01,0.02,0.03,0.04,0.05,0.06,0.07,0.08,0.09,0.1,0.2,0.3,0.4,0.5,0.6,0.7,0.8,0.9,1,2,3,4,5,6,7,8,9,10,20],"labelExpr":"datum.value==10?'10¹':datum.value==1?'10⁰':datum.value==0.1?'10⁻¹':datum.value==0.01?'10⁻²':datum.value==0.001?'10⁻³':''","tickSize":{"condition":{"test":"datum.value==10||datum.value==1||datum.value==0.1||datum.value==0.01||datum.value==0.001","value":4},"value":2},"labelOverlap":false,"labelFlush":false}}},
   "layer":[
    {"data":{"name":"br"},"transform":[{"filter":"datum.p=='sM'"}],"mark":{"type":"rule","color":"#a3a3a3","strokeWidth":1.2},"encoding":{"x2":{"field":"c2"}}},
    {"data":{"name":"br"},"transform":[{"filter":"datum.p=='sM'"},{"fold":["c","c2"],"as":["k","e"]}],"mark":{"type":"tick","orient":"vertical","color":"#a3a3a3","size":4,"thickness":1.2,"yOffset":2},"encoding":{"x":{"field":"e","type":"nominal","scale":{"type":"point","domain":["6-9M","18M vaccinated","18M unvaccinated"],"padding":0.44},"axis":{"title":null}}}},
    {"data":{"name":"br"},"transform":[{"filter":"datum.p=='sM'&&!(datum.c=='6-9M'&&datum.c2=='18M unvaccinated')"}],"mark":{"type":"text","dx":17,"dy":-3,"baseline":"alphabetic","color":"#222","fontSize":10},"encoding":{"text":{"field":"t"}}},
    {"data":{"name":"br"},"transform":[{"filter":"datum.p=='sM'&&datum.c=='6-9M'&&datum.c2=='18M unvaccinated'"}],"mark":{"type":"text","dx":34,"dy":-3,"baseline":"alphabetic","color":"#222","fontSize":10},"encoding":{"text":{"field":"t"}}},
    {"data":{"name":"pts"},"transform":[{"filter":"datum.p=='sM'"},{"window":[{"op":"row_number","as":"rn"}],"groupby":["c"]},{"window":[{"op":"percent_rank","as":"j"}],"sort":[{"field":"rn"}],"groupby":["c"]}],"mark":{"type":"point","filled":true,"size":40,"fill":"#d42424","stroke":"#7a0b0b","strokeWidth":0.8,"opacity":1},"encoding":{"xOffset":{"field":"j","type":"quantitative","scale":{"domain":[0,1],"range":[-9,9]}},"shape":{"field":"c","type":"nominal","scale":{"domain":["6-9M","18M vaccinated","18M unvaccinated"],"range":["circle","square","diamond"]},"legend":null}}},
    {"data":{"name":"pts"},"transform":[{"filter":"datum.p=='sM'"},{"aggregate":[{"op":"median","field":"v","as":"v"}],"groupby":["c"]}],"mark":{"type":"tick","orient":"horizontal","color":"#000","size":20,"thickness":2.5}}
   ]},
  {"width":98,"height":159,"title":{"text":"ORF3-10","dy":-17},
   "encoding":{"x":{"field":"c","type":"nominal","scale":{"type":"point","domain":["6-9M","18M vaccinated","18M unvaccinated"],"padding":0.44},"axis":{"title":null}},
    "y":{"field":"v","type":"quantitative","scale":{"type":"log","domain":[0.000575,29.5],"nice":false},"axis":{"title":null,"values":[0.001,0.002,0.003,0.004,0.005,0.006,0.007,0.008,0.009,0.01,0.02,0.03,0.04,0.05,0.06,0.07,0.08,0.09,0.1,0.2,0.3,0.4,0.5,0.6,0.7,0.8,0.9,1,2,3,4,5,6,7,8,9,10,20],"labelExpr":"datum.value==10?'10¹':datum.value==1?'10⁰':datum.value==0.1?'10⁻¹':datum.value==0.01?'10⁻²':datum.value==0.001?'10⁻³':''","tickSize":{"condition":{"test":"datum.value==10||datum.value==1||datum.value==0.1||datum.value==0.01||datum.value==0.001","value":4},"value":2},"labelOverlap":false,"labelFlush":false}}},
   "layer":[
    {"data":{"name":"br"},"transform":[{"filter":"datum.p=='sO'"}],"mark":{"type":"rule","color":"#a3a3a3","strokeWidth":1.2},"encoding":{"x2":{"field":"c2"}}},
    {"data":{"name":"br"},"transform":[{"filter":"datum.p=='sO'"},{"fold":["c","c2"],"as":["k","e"]}],"mark":{"type":"tick","orient":"vertical","color":"#a3a3a3","size":4,"thickness":1.2,"yOffset":2},"encoding":{"x":{"field":"e","type":"nominal","scale":{"type":"point","domain":["6-9M","18M vaccinated","18M unvaccinated"],"padding":0.44},"axis":{"title":null}}}},
    {"data":{"name":"br"},"transform":[{"filter":"datum.p=='sO'&&!(datum.c=='6-9M'&&datum.c2=='18M unvaccinated')"}],"mark":{"type":"text","dx":17,"dy":-3,"baseline":"alphabetic","color":"#222","fontSize":10},"encoding":{"text":{"field":"t"}}},
    {"data":{"name":"br"},"transform":[{"filter":"datum.p=='sO'&&datum.c=='6-9M'&&datum.c2=='18M unvaccinated'"}],"mark":{"type":"text","dx":34,"dy":-3,"baseline":"alphabetic","color":"#222","fontSize":10},"encoding":{"text":{"field":"t"}}},
    {"data":{"name":"pts"},"transform":[{"filter":"datum.p=='sO'"},{"window":[{"op":"row_number","as":"rn"}],"groupby":["c"]},{"window":[{"op":"percent_rank","as":"j"}],"sort":[{"field":"rn"}],"groupby":["c"]}],"mark":{"type":"point","filled":true,"size":40,"fill":"#d42424","stroke":"#7a0b0b","strokeWidth":0.8,"opacity":1},"encoding":{"xOffset":{"field":"j","type":"quantitative","scale":{"domain":[0,1],"range":[-9,9]}},"shape":{"field":"c","type":"nominal","scale":{"domain":["6-9M","18M vaccinated","18M unvaccinated"],"range":["circle","square","diamond"]},"legend":null}}},
    {"data":{"name":"pts"},"transform":[{"filter":"datum.p=='sO'"},{"aggregate":[{"op":"median","field":"v","as":"v"}],"groupby":["c"]}],"mark":{"type":"tick","orient":"horizontal","color":"#000","size":20,"thickness":2.5}}
   ]}
  ]}
 ]},
{"title":{"text":"B","orient":"left","anchor":"end","angle":0,"align":"right","baseline":"top","fontSize":17,"fontWeight":"bold","offset":2,"dy":10,"frame":"bounds"},
 "bounds":"flush","spacing":159,
 "hconcat":[
  {"width":146,"height":185,"title":{"text":"Spike (mild disease)","dy":-29,"dx":-16},
   "encoding":{"x":{"field":"c","type":"nominal","scale":{"type":"point","domain":["6-9M","18M vaccinated","18M unvaccinated"],"padding":0.44},"axis":{"title":null}},
    "y":{"field":"v","type":"quantitative","scale":{"type":"log","domain":[0.000525,25.7],"nice":false},"axis":{"title":["AIM⁺","(% memory CD8⁺ T cells)"],"titlePadding":4,"values":[0.001,0.002,0.003,0.004,0.005,0.006,0.007,0.008,0.009,0.01,0.02,0.03,0.04,0.05,0.06,0.07,0.08,0.09,0.1,0.2,0.3,0.4,0.5,0.6,0.7,0.8,0.9,1,2,3,4,5,6,7,8,9,10,20],"labelExpr":"datum.value==10?'10¹':datum.value==1?'10⁰':datum.value==0.1?'10⁻¹':datum.value==0.01?'10⁻²':datum.value==0.001?'10⁻³':''","tickSize":{"condition":{"test":"datum.value==10||datum.value==1||datum.value==0.1||datum.value==0.01||datum.value==0.001","value":4},"value":2},"labelOverlap":false,"labelFlush":false}}},
   "layer":[
    {"data":{"name":"br"},"transform":[{"filter":"datum.p=='bm'"}],"mark":{"type":"rule","color":"#a3a3a3","strokeWidth":1.2},"encoding":{"x2":{"field":"c2"}}},
    {"data":{"name":"br"},"transform":[{"filter":"datum.p=='bm'"},{"fold":["c","c2"],"as":["k","e"]}],"mark":{"type":"tick","orient":"vertical","color":"#a3a3a3","size":4,"thickness":1.2,"yOffset":2},"encoding":{"x":{"field":"e","type":"nominal","scale":{"type":"point","domain":["6-9M","18M vaccinated","18M unvaccinated"],"padding":0.44},"axis":{"title":null}}}},
    {"data":{"name":"br"},"transform":[{"filter":"datum.p=='bm'&&!(datum.c=='6-9M'&&datum.c2=='18M unvaccinated')"}],"mark":{"type":"text","dx":25,"dy":-3,"baseline":"alphabetic","color":"#222","fontSize":10},"encoding":{"text":{"field":"t"}}},
    {"data":{"name":"br"},"transform":[{"filter":"datum.p=='bm'&&datum.c=='6-9M'&&datum.c2=='18M unvaccinated'"}],"mark":{"type":"text","dx":50,"dy":-3,"baseline":"alphabetic","color":"#222","fontSize":10},"encoding":{"text":{"field":"t"}}},
    {"data":{"name":"pts"},"transform":[{"filter":"datum.p=='bm'"},{"window":[{"op":"row_number","as":"rn"}],"groupby":["c"]},{"window":[{"op":"percent_rank","as":"j"}],"sort":[{"field":"rn"}],"groupby":["c"]}],"mark":{"type":"point","filled":true,"size":50,"fill":"#1f23b3","stroke":"#0a0d66","strokeWidth":0.8,"opacity":1},"encoding":{"xOffset":{"field":"j","type":"quantitative","scale":{"domain":[0,1],"range":[-11,11]}},"shape":{"field":"c","type":"nominal","scale":{"domain":["6-9M","18M vaccinated","18M unvaccinated"],"range":["circle","square","diamond"]},"legend":null}}},
    {"data":{"name":"pts"},"transform":[{"filter":"datum.p=='bm'"},{"aggregate":[{"op":"median","field":"v","as":"v"}],"groupby":["c"]}],"mark":{"type":"tick","orient":"horizontal","color":"#000","size":26,"thickness":2.5}}
   ]},
  {"width":146,"height":185,"title":{"text":"Spike (severe disease)","dy":4,"dx":-10},
   "encoding":{"x":{"field":"c","type":"nominal","scale":{"type":"point","domain":["6-9M","18M vaccinated","18M unvaccinated"],"padding":0.44},"axis":{"title":null}},
    "y":{"field":"v","type":"quantitative","scale":{"type":"log","domain":[0.000525,25.7],"nice":false},"axis":{"title":["AIM⁺","(% memory CD8⁺ T cells)"],"titlePadding":4,"values":[0.001,0.002,0.003,0.004,0.005,0.006,0.007,0.008,0.009,0.01,0.02,0.03,0.04,0.05,0.06,0.07,0.08,0.09,0.1,0.2,0.3,0.4,0.5,0.6,0.7,0.8,0.9,1,2,3,4,5,6,7,8,9,10,20],"labelExpr":"datum.value==10?'10¹':datum.value==1?'10⁰':datum.value==0.1?'10⁻¹':datum.value==0.01?'10⁻²':datum.value==0.001?'10⁻³':''","tickSize":{"condition":{"test":"datum.value==10||datum.value==1||datum.value==0.1||datum.value==0.01||datum.value==0.001","value":4},"value":2},"labelOverlap":false,"labelFlush":false}}},
   "layer":[
    {"data":{"name":"br"},"transform":[{"filter":"datum.p=='bs'"}],"mark":{"type":"rule","color":"#a3a3a3","strokeWidth":1.2},"encoding":{"x2":{"field":"c2"}}},
    {"data":{"name":"br"},"transform":[{"filter":"datum.p=='bs'"},{"fold":["c","c2"],"as":["k","e"]}],"mark":{"type":"tick","orient":"vertical","color":"#a3a3a3","size":4,"thickness":1.2,"yOffset":2},"encoding":{"x":{"field":"e","type":"nominal","scale":{"type":"point","domain":["6-9M","18M vaccinated","18M unvaccinated"],"padding":0.44},"axis":{"title":null}}}},
    {"data":{"name":"br"},"transform":[{"filter":"datum.p=='bs'&&!(datum.c=='6-9M'&&datum.c2=='18M unvaccinated')"}],"mark":{"type":"text","dx":25,"dy":-3,"baseline":"alphabetic","color":"#222","fontSize":10},"encoding":{"text":{"field":"t"}}},
    {"data":{"name":"br"},"transform":[{"filter":"datum.p=='bs'&&datum.c=='6-9M'&&datum.c2=='18M unvaccinated'"}],"mark":{"type":"text","dx":50,"dy":-3,"baseline":"alphabetic","color":"#222","fontSize":10},"encoding":{"text":{"field":"t"}}},
    {"data":{"name":"pts"},"transform":[{"filter":"datum.p=='bs'"},{"window":[{"op":"row_number","as":"rn"}],"groupby":["c"]},{"window":[{"op":"percent_rank","as":"j"}],"sort":[{"field":"rn"}],"groupby":["c"]}],"mark":{"type":"point","filled":true,"size":50,"fill":"#d42424","stroke":"#7a0b0b","strokeWidth":0.8,"opacity":1},"encoding":{"xOffset":{"field":"j","type":"quantitative","scale":{"domain":[0,1],"range":[-11,11]}},"shape":{"field":"c","type":"nominal","scale":{"domain":["6-9M","18M vaccinated","18M unvaccinated"],"range":["circle","square","diamond"]},"legend":null}}},
    {"data":{"name":"pts"},"transform":[{"filter":"datum.p=='bs'"},{"aggregate":[{"op":"median","field":"v","as":"v"}],"groupby":["c"]}],"mark":{"type":"tick","orient":"horizontal","color":"#000","size":26,"thickness":2.5}}
   ]}
 ]},
{"width":905,"height":135,"data":{"name":"cap"},
 "encoding":{"y":{"field":"line","type":"ordinal","axis":null,"scale":{"padding":0.5}},"text":{"field":"text"}},
 "layer":[
  {"transform":[{"filter":"datum.line==1&&datum.part==1"}],"mark":{"type":"text","align":"left","dx":-81,"font":"Liberation Sans","fontSize":21,"fontWeight":"bold","color":"#000"},"encoding":{"x":{"value":0}}},
  {"transform":[{"filter":"datum.line>1&&datum.part==1"}],"mark":{"type":"text","align":"left","dx":-81,"font":"Liberation Sans","fontSize":21,"color":"#000"},"encoding":{"x":{"value":0}}},
  {"transform":[{"filter":"datum.part==2"}],"mark":{"type":"text","align":"right","dx":-81,"font":"Liberation Sans","fontSize":21,"color":"#000"},"encoding":{"x":{"value":"width"}}}
 ]}
]
}
